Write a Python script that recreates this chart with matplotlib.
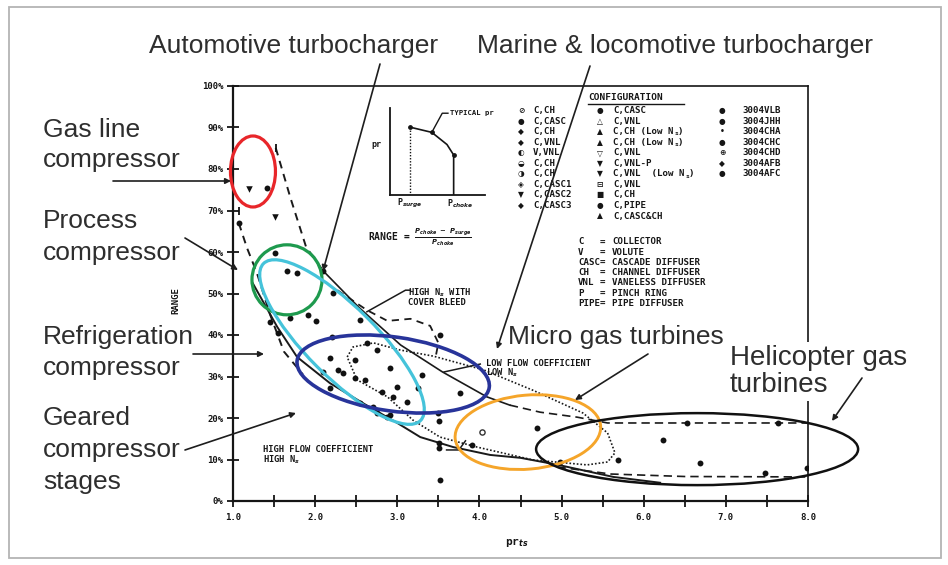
import numpy as np
import matplotlib
matplotlib.use("Agg")
import matplotlib.pyplot as plt
from matplotlib.patches import Ellipse, Rectangle, FancyArrowPatch
from matplotlib.lines import Line2D
from matplotlib.transforms import ScaledTranslation
from matplotlib.ticker import MultipleLocator, FuncFormatter

W, H = 948, 565

# ---------------- stage test data: total-to-static pressure ratio vs. range ----------------
pr_dots = [1.41, 1.07, 1.51, 1.66, 1.78, 2.10, 1.45, 1.55, 1.69, 1.91,
           2.01, 2.22, 2.55, 2.21, 2.63, 2.75, 2.91, 2.49, 2.18, 2.28,
           2.34, 2.49, 2.61, 2.81, 3.00, 2.95, 3.12, 3.30, 3.25, 2.10,
           2.18, 2.55, 2.71, 2.91, 2.75, 2.88, 3.52, 3.50, 3.51, 3.51,
           3.51, 3.52, 3.76, 3.91, 4.70, 4.98, 5.69, 6.23, 6.53, 6.69,
           7.63, 7.48, 7.99]
range_dots = [75.4, 67.0, 59.8, 55.4, 54.9, 55.4, 43.1, 40.5, 44.1, 44.8,
              43.4, 50.1, 43.6, 39.5, 38.1, 36.4, 32.0, 34.0, 34.5, 31.6,
              30.8, 29.6, 29.2, 26.3, 27.5, 25.1, 23.9, 30.4, 27.2, 31.1,
              27.2, 23.6, 22.7, 20.7, 21.2, 20.2, 40.0, 21.2, 19.3, 14.0,
              12.8, 5.1, 26.0, 13.5, 17.6, 9.4, 9.9, 14.7, 18.8, 9.2,
              18.8, 6.7, 8.0]
pr_tri = [1.19, 1.51]
range_tri = [75.2, 68.4]
pr_open = [4.03]
range_open = [16.6]
pr_bar = [1.52, 1.07]
range_bar = [85.0, 70.0]

# ---------------- envelope curves ----------------
upper_dash1_pr = [1.52, 1.70, 1.89, 2.10]
upper_dash1_rng = [85.1, 73.0, 61.2, 55.4]
upper_solid_pr = [2.10, 2.53, 3.04, 3.55, 4.09, 4.37]
upper_solid_rng = [55.4, 46.7, 37.6, 31.1, 25.1, 23.1]
upper_dash2_pr = [4.37, 4.74, 5.19, 5.56, 8.0]
upper_dash2_rng = [23.1, 21.4, 20.2, 18.8, 18.8]

lower_dash1_pr = [1.07, 1.17, 1.29, 1.45, 1.62, 1.85]
lower_dash1_rng = [67.0, 61.0, 55.0, 45.0, 36.0, 30.5]
lower_solid_pr = [1.24, 1.39, 1.54, 1.78, 2.18, 2.58, 3.00, 3.28, 3.68,
                  4.13, 4.50, 4.96, 5.63, 6.20]
lower_solid_rng = [52.5, 47.2, 41.9, 34.7, 28.4, 23.6, 18.8, 15.4, 13.0,
                   11.1, 10.4, 8.7, 5.8, 4.4]
lower_dash2_pr = [4.95, 5.60, 6.50, 8.0]
lower_dash2_rng = [8.2, 6.5, 5.9, 5.8]

# low flow coefficient / low Ns region (dotted loop)
lowflow_pr = [2.39, 2.46, 2.71, 3.03, 3.44, 4.05, 4.65, 5.26, 5.56, 5.65,
              5.56, 5.31, 4.65, 3.97, 3.52, 3.19, 2.88, 2.51, 2.39]
lowflow_rng = [34.7, 37.1, 38.1, 36.4, 34.9, 31.6, 26.7, 21.2, 16.4, 11.6,
               9.4, 8.7, 9.9, 13.0, 15.4, 19.5, 25.1, 29.2, 34.7]

# high Ns with cover bleed (dashed branch)
bleed_pr = [2.27, 2.63, 2.88, 3.16, 3.40, 3.50, 3.46]
bleed_rng = [50.8, 46.0, 43.4, 43.9, 42.2, 38.1, 34.0]

# ---------------- application regions: centre (pr, range), size in px, tilt ----------------
regions = {
    "gas_line":      ((1.243, 79.4), 45, 71, 0, "#e8262a", 2.3),
    "process":       ((1.657, 53.3), 70, 70, 0, "#1e9a4e", 2.3),
    "automotive":    ((2.327, 38.3), 222, 70, -45, "#45c3da", 2.3),
    "refrigeration": ((2.95, 30.6), 194, 74, -8, "#28349a", 2.6),
    "micro_gt":      ((4.59, 16.6), 146, 74, 5, "#f5a52a", 2.1),
    "helicopter":    ((6.65, 12.5), 322, 72, 0, "#111111", 1.8),
}

# ---------------- configuration key ----------------
col1_sym = ["⊘", "●", "◆", "◆", "◐", "◒", "◑", "◈", "▼", "◆"]
col1_txt = ["C,CH", "C,CASC", "C,CH", "C,VNL", "V,VNL", "C,CH", "C,CH",
            "C,CASC1", "C,CASC2", "C,CASC3"]
col2_sym = ["●", "△", "▲", "▲", "▽", "▼", "▼", "⊟", "■", "●", "▲"]
col2_txt = ["C,CASC", "C,VNL", "C,CH (Low N_s)", "C,CH (Low N_s)", "C,VNL",
            "C,VNL-P", "C,VNL  (Low N_s)", "C,VNL", "C,CH", "C,PIPE", "C,CASC&CH"]
col3_sym = ["●", "●", "•", "●", "⊕", "◆", "●"]
col3_txt = ["3004VLB", "3004JHH", "3004CHA", "3004CHC", "3004CHD", "3004AFB", "3004AFC"]
abbr_keys = ["C", "V", "CASC", "CH", "VNL", "P", "PIPE"]
abbr_vals = ["COLLECTOR", "VOLUTE", "CASCADE DIFFUSER", "CHANNEL DIFFUSER",
             "VANELESS DIFFUSER", "PINCH RING", "PIPE DIFFUSER"]

# typical speed line for the sketch (normalised)
typ_flow = [0.21, 0.44, 0.60, 0.67, 0.67]
typ_pr = [0.78, 0.72, 0.58, 0.46, 0.0]

SCAN = dict(family="DejaVu Sans Mono", weight="bold", color="#161616")
LABEL = dict(family=["Liberation Sans", "DejaVu Sans"], color="#2e2e2e")
KEY_FS = 6.6
MONO_W = 0.602 * KEY_FS * 100 / 72   # advance of one monospace character, px

plt.rcParams["font.family"] = ["DejaVu Sans Mono", "DejaVu Sans"]
plt.rcParams["font.weight"] = "bold"


def fpx(x, y):
    """pixel position (origin top-left) -> figure fraction"""
    return (x / W, 1 - y / H)


def key_text(x, y, t):
    """monospace key entry; 'N_s' is set with a lowered small s"""
    if "N_s" not in t:
        fig.text(*fpx(x, y), t, fontsize=KEY_FS, va="center", **SCAN)
        return
    pre, post = t.split("N_s")
    head = pre + "N"
    fig.text(*fpx(x, y), head, fontsize=KEY_FS, va="center", **SCAN)
    xs = x + MONO_W * len(head) + 0.6
    fig.text(*fpx(xs, y + 2.2), "s", fontsize=4.6, va="center", **SCAN)
    fig.text(*fpx(xs + 3.8, y), post, fontsize=KEY_FS, va="center", **SCAN)


fig = plt.figure(figsize=(W / 100, H / 100), dpi=100)
fig.patch.set_facecolor("white")

# outer frame
fig.add_artist(Rectangle(fpx(9, 558), (941 - 9) / W, (558 - 7) / H, transform=fig.transFigure,
                         fill=False, edgecolor="#b4b4b4", lw=1.3))

ax = fig.add_axes([233 / W, 1 - 501 / H, 575 / W, 415 / H])
ax.set_xlim(1, 8)
ax.set_ylim(0, 100)
ax.set_facecolor("none")
for side, lw in (("left", 1.6), ("bottom", 1.6), ("top", 1.2), ("right", 1.2)):
    ax.spines[side].set_linewidth(lw)
    ax.spines[side].set_color("#151515")
ax.xaxis.set_major_locator(MultipleLocator(0.5))
ax.xaxis.set_major_formatter(FuncFormatter(
    lambda v, _: f"{v:.1f}" if abs(v - round(v)) < 1e-6 else ""))
ax.yaxis.set_major_locator(MultipleLocator(10))
ax.yaxis.set_major_formatter(FuncFormatter(lambda v, _: f"{int(round(v))}%"))
ax.tick_params(direction="inout", length=8, width=1.3, colors="#151515",
               labelsize=6.5, pad=3)
ax.tick_params(axis="x", pad=5)
ax.set_ylabel("RANGE", fontsize=6.5, **SCAN)
ax.yaxis.set_label_coords(-0.092, 0.484)
ax.set_xlabel("pr$_{ts}$", fontsize=8, **SCAN)
ax.xaxis.set_label_coords(0.494, -0.087)

# envelope lines
kw = dict(color="#1a1a1a", clip_on=False)
ax.plot(upper_dash1_pr, upper_dash1_rng, ls=(0, (4, 3)), lw=1.4, **kw)
ax.plot(upper_solid_pr, upper_solid_rng, ls="-", lw=1.2, **kw)
ax.plot(upper_dash2_pr, upper_dash2_rng, ls=(0, (5, 3)), lw=1.2, **kw)
ax.plot(lower_dash1_pr, lower_dash1_rng, ls=(0, (4, 3)), lw=1.4, **kw)
ax.plot(lower_solid_pr, lower_solid_rng, ls="-", lw=1.4, **kw)
ax.plot(lower_dash2_pr, lower_dash2_rng, ls=(0, (5, 3)), lw=1.2, **kw)
ax.plot(lowflow_pr, lowflow_rng, ls=(0, (1, 1.2)), lw=1.2, **kw)
ax.plot(bleed_pr, bleed_rng, ls=(0, (4, 3)), lw=1.3, **kw)

# stage points
ax.scatter(pr_dots, range_dots, s=18, color="#111111", zorder=3, linewidths=0)
ax.scatter(pr_tri, range_tri, s=22, marker="v", color="#111111", zorder=3, linewidths=0)
ax.scatter(pr_open, range_open, s=14, marker="o", facecolor="white",
           edgecolor="#333333", linewidths=1.0, zorder=3)
ax.scatter(pr_bar, range_bar, s=30, marker="|", color="#111111", linewidths=1.3, zorder=3)

# region annotations inside the chart
ax.plot([3.16, 3.10, 2.63], [50.8, 50.8, 45.6], color="#1a1a1a", lw=1.1)
ax.text(3.13, 50.3, "HIGH N$_s$ WITH", fontsize=6.3, va="center", **SCAN)
ax.text(3.13, 47.8, "COVER BLEED", fontsize=6.3, va="center", **SCAN)
ax.plot([4.01, 3.57], [33.0, 31.1], color="#1a1a1a", lw=1.1)
ax.text(4.08, 33.2, "LOW FLOW COEFFICIENT", fontsize=6.3, va="center", **SCAN)
ax.text(4.08, 30.8, "LOW N$_s$", fontsize=6.3, va="center", **SCAN)
ax.plot([3.60, 3.75, 3.83], [12.3, 12.3, 14.5], color="#1a1a1a", lw=1.1)
ax.text(1.37, 12.3, "HIGH FLOW COEFFICIENT", fontsize=6.3, va="center", **SCAN)
ax.text(1.37, 9.9, "HIGH N$_s$", fontsize=6.3, va="center", **SCAN)

# configuration key
fig.text(*fpx(588, 98), "CONFIGURATION", fontsize=6.8, va="center", **SCAN)
fig.add_artist(Line2D([588 / W, 684 / W], [1 - 104 / H, 1 - 104 / H],
                      transform=fig.transFigure, color="#161616", lw=1.0))
for col_sym, col_txt, xs, xt in ((col1_sym, col1_txt, 521, 533),
                                 (col2_sym, col2_txt, 600, 613),
                                 (col3_sym, col3_txt, 722, 742)):
    for i, (s, t) in enumerate(zip(col_sym, col_txt)):
        yy = 110.5 + 10.55 * i
        fig.text(*fpx(xs, yy), s, fontsize=5.5, family="DejaVu Sans",
                 color="#161616", ha="center", va="center")
        key_text(xt, yy, t)
for i, (k, v) in enumerate(zip(abbr_keys, abbr_vals)):
    yy = 242 + 10.2 * i
    fig.text(*fpx(578, yy), k, fontsize=KEY_FS, va="center", **SCAN)
    fig.text(*fpx(602, yy), "=", fontsize=KEY_FS, va="center", ha="center", **SCAN)
    fig.text(*fpx(612, yy), v, fontsize=KEY_FS, va="center", **SCAN)

# typical speed line sketch
axi = fig.add_axes([390 / W, 1 - 195 / H, 95 / W, 87 / H])
axi.set_xlim(0, 1)
axi.set_ylim(0, 1)
axi.set_facecolor("none")
for side in ("top", "right"):
    axi.spines[side].set_visible(False)
for side in ("left", "bottom"):
    axi.spines[side].set_linewidth(1.3)
    axi.spines[side].set_color("#151515")
axi.set_xticks([])
axi.set_yticks([])
axi.plot(typ_flow, typ_pr, color="#151515", lw=1.2)
axi.plot(typ_flow[:1] * 2, [typ_pr[0], 0], color="#151515", lw=1.0, ls=(0, (1, 1.2)))
axi.scatter([typ_flow[0], typ_flow[1], typ_flow[3]], [typ_pr[0], typ_pr[1], typ_pr[3]],
            s=6, color="#151515", zorder=3)
axi.plot([typ_flow[1], 0.55, 0.61], [typ_pr[1], 0.94, 0.94], color="#151515", lw=1.0,
         clip_on=False)
axi.text(0.63, 0.94, "TYPICAL pr", fontsize=5.2, va="center", **SCAN)
axi.text(-0.14, 0.58, "pr", fontsize=6, va="center", ha="center", **SCAN)
axi.text(0.21, -0.1, "P$_{surge}$", fontsize=6, va="center", ha="center", **SCAN)
axi.text(0.74, -0.1, "P$_{choke}$", fontsize=6, va="center", ha="center", **SCAN)
fig.text(*fpx(368, 237), r"RANGE = $\frac{P_{choke}\ -\ P_{surge}}{P_{choke}}$",
         fontsize=7, va="center", **SCAN)

# application regions
for (cx, cy), wpx, hpx, ang, col, lw in regions.values():
    tr = fig.dpi_scale_trans + ScaledTranslation(cx, cy, ax.transData)
    e = Ellipse((0, 0), wpx / 100, hpx / 100, angle=ang, transform=tr,
                fill=False, edgecolor=col, lw=lw, zorder=5)
    e.set_clip_on(False)
    ax.add_artist(e)

# application labels
labels = [
    ("Automotive turbocharger", 149, 53),
    ("Marine & locomotive turbocharger", 477, 53),
    ("Gas line", 43, 137), ("compressor", 43, 167),
    ("Process", 43, 228), ("compressor", 43, 260),
    ("Refrigeration", 43, 344), ("compressor", 43, 375),
    ("Geared", 43, 425), ("compressor", 43, 457), ("stages", 43, 489),
    ("Micro gas turbines", 508, 344),
]
for t, x, y in labels:
    fig.text(*fpx(x, y), t, va="baseline", ha="left", weight="normal",
             fontsize=19, **LABEL)
fig.text(*fpx(730, 392), "Helicopter gas\nturbines", va="baseline", ha="left",
         weight="normal", fontsize=20, linespacing=1.05, zorder=3,
         bbox=dict(facecolor="white", edgecolor="none", pad=2.5), **LABEL)

arrows = [
    ((380, 64), (323, 271)),
    ((590, 66), (497, 349)),
    ((113, 181), (231, 181)),
    ((185, 238), (238, 270)),
    ((193, 354), (264, 354)),
    ((185, 450), (296, 413)),
    ((648, 354), (575, 400)),
    ((862, 378), (832, 421)),
]
for (x0, y0), (x1, y1) in arrows:
    fig.add_artist(FancyArrowPatch(fpx(x0, y0), fpx(x1, y1), transform=fig.transFigure,
                                   arrowstyle="-|>", mutation_scale=8, lw=1.2,
                                   color="#1e1e1e", shrinkA=0, shrinkB=0, zorder=6))

fig.savefig("out.png", dpi=100, facecolor="white")
